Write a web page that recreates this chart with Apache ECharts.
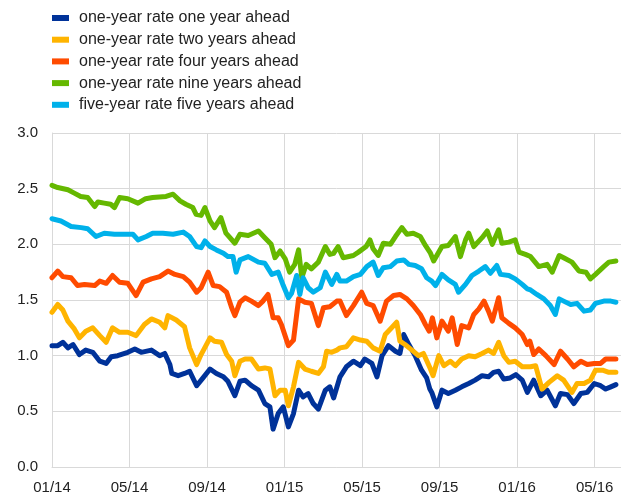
<!DOCTYPE html>
<html>
<head>
<meta charset="utf-8">
<script src="https://cdn.jsdelivr.net/npm/echarts@6/dist/echarts.min.js"></script>
<style>
html,body{margin:0;padding:0;background:#fff;}
#chart{width:621px;height:495px;}
</style>
</head>
<body>
<div id="chart"></div>
<script>
// x = days since 01/01/2014
var seriesNames = ['one-year rate one year ahead', 'one-year rate two years ahead', 'one-year rate four years ahead', 'one-year rate nine years ahead', 'five-year rate five years ahead'];
var colors = ['#003299', '#ffb400', '#ff4b00', '#65b800', '#00b1ea'];
var yTicks = [0, 0.5, 1, 1.5, 2, 2.5, 3];

var oneYearOne = [[0,1.09],[9,1.09],[17,1.12],[25,1.07],[33,1.10],[43,1.01],[53,1.05],[64,1.03],[75,0.95],[85,0.93],[93,0.99],[103,1.00],[119,1.03],[130,1.06],[140,1.03],[156,1.05],[169,1.00],[177,1.02],[185,0.92],[188,0.84],[198,0.82],[208,0.84],[216,0.86],[227,0.73],[237,0.80],[248,0.88],[258,0.84],[269,0.81],[276,0.77],[287,0.64],[295,0.77],[303,0.78],[313,0.73],[324,0.69],[334,0.57],[342,0.54],[347,0.34],[355,0.48],[363,0.54],[371,0.36],[379,0.48],[387,0.69],[394,0.63],[402,0.66],[410,0.57],[418,0.52],[429,0.69],[436,0.72],[442,0.62],[452,0.81],[462,0.90],[473,0.95],[484,0.91],[491,0.97],[502,0.93],[510,0.81],[518,1.00],[528,1.09],[539,1.04],[546,1.02],[552,1.19],[560,1.10],[570,1.00],[580,0.87],[588,0.80],[593,0.70],[596,0.67],[599,0.66],[604,0.54],[612,0.69],[622,0.66],[633,0.69],[643,0.72],[654,0.75],[664,0.78],[675,0.82],[685,0.81],[693,0.85],[701,0.86],[709,0.79],[719,0.80],[728,0.83],[738,0.78],[746,0.67],[756,0.78],[767,0.64],[777,0.69],[790,0.55],[798,0.66],[809,0.65],[819,0.57],[830,0.66],[840,0.67],[851,0.75],[861,0.73],[869,0.70],[877,0.72],[885,0.74]];
var oneYearTwo = [[0,1.39],[9,1.46],[17,1.41],[25,1.31],[35,1.24],[43,1.16],[53,1.22],[64,1.25],[75,1.18],[85,1.12],[95,1.25],[106,1.21],[119,1.21],[132,1.18],[145,1.28],[156,1.33],[169,1.30],[177,1.25],[182,1.36],[195,1.32],[208,1.26],[216,1.07],[227,0.92],[234,1.01],[248,1.16],[255,1.13],[266,1.12],[274,1.01],[282,0.95],[287,0.82],[295,0.95],[303,0.97],[313,0.97],[324,0.88],[334,0.89],[342,0.88],[350,0.64],[358,0.69],[366,0.69],[371,0.55],[379,0.72],[387,0.94],[397,0.88],[407,0.86],[418,0.84],[426,0.90],[431,1.04],[439,1.03],[447,1.05],[452,1.07],[462,1.08],[473,1.16],[484,1.14],[494,1.13],[504,1.07],[515,1.04],[523,1.19],[533,1.25],[541,1.30],[546,1.13],[554,1.10],[565,1.05],[575,1.00],[583,1.02],[594,0.88],[598,0.82],[607,1.00],[615,0.91],[625,0.95],[633,0.91],[643,0.97],[654,1.00],[664,0.99],[675,1.02],[685,1.05],[693,1.02],[701,1.12],[709,1.00],[717,0.94],[727,0.95],[738,0.90],[751,0.90],[759,0.91],[769,0.70],[780,0.76],[793,0.82],[803,0.78],[816,0.67],[824,0.75],[835,0.75],[845,0.78],[853,0.87],[864,0.87],[874,0.85],[885,0.85]];
var oneYearFour = [[0,1.70],[9,1.76],[17,1.71],[30,1.70],[40,1.63],[51,1.64],[67,1.63],[75,1.67],[85,1.65],[95,1.72],[106,1.66],[119,1.65],[132,1.54],[143,1.66],[156,1.69],[169,1.71],[182,1.76],[193,1.73],[206,1.71],[216,1.66],[227,1.57],[234,1.61],[245,1.75],[253,1.63],[263,1.62],[274,1.57],[282,1.43],[287,1.36],[295,1.48],[303,1.52],[313,1.49],[324,1.45],[331,1.49],[339,1.55],[347,1.34],[355,1.34],[360,1.28],[371,1.09],[379,1.14],[387,1.51],[397,1.48],[407,1.47],[418,1.27],[426,1.43],[436,1.44],[447,1.49],[452,1.49],[462,1.36],[473,1.45],[486,1.57],[494,1.47],[504,1.45],[515,1.31],[525,1.49],[536,1.54],[546,1.55],[557,1.51],[567,1.45],[578,1.37],[586,1.28],[592,1.22],[597,1.34],[604,1.16],[612,1.31],[622,1.22],[628,1.34],[636,1.10],[643,1.27],[654,1.25],[662,1.37],[670,1.42],[678,1.49],[685,1.40],[691,1.31],[701,1.52],[706,1.34],[717,1.29],[727,1.25],[738,1.19],[746,1.10],[750,1.13],[756,1.01],[764,1.06],[775,1.00],[788,0.92],[798,1.04],[809,0.97],[819,0.90],[830,0.95],[840,0.92],[851,0.93],[861,0.93],[869,0.97],[885,0.97]];
var oneYearNine = [[0,2.53],[9,2.51],[25,2.49],[35,2.46],[45,2.43],[56,2.42],[67,2.34],[72,2.38],[82,2.37],[92,2.36],[98,2.33],[106,2.42],[119,2.41],[135,2.37],[147,2.41],[158,2.42],[179,2.43],[190,2.45],[201,2.39],[210,2.36],[221,2.33],[226,2.27],[234,2.26],[240,2.33],[248,2.21],[255,2.15],[265,2.24],[273,2.10],[287,2.01],[295,2.09],[308,2.08],[324,2.12],[334,2.06],[344,2.00],[350,1.88],[358,1.94],[366,1.87],[373,1.75],[381,1.82],[387,1.95],[392,1.70],[399,1.82],[407,1.78],[418,1.84],[429,1.98],[436,1.91],[442,1.92],[449,1.98],[457,1.88],[473,1.90],[481,1.93],[493,1.98],[499,2.04],[504,1.96],[512,1.90],[520,2.01],[531,2.00],[539,2.07],[549,2.15],[557,2.09],[567,2.10],[578,2.07],[586,1.99],[594,1.92],[599,1.85],[612,1.98],[622,1.99],[633,2.07],[641,1.89],[649,2.04],[654,2.10],[662,1.98],[675,2.06],[683,2.12],[691,2.00],[701,2.13],[706,2.01],[717,2.02],[727,2.04],[733,1.93],[743,1.91],[751,1.89],[764,1.80],[777,1.82],[785,1.75],[796,1.90],[803,1.88],[816,1.84],[827,1.76],[838,1.75],[845,1.69],[853,1.73],[866,1.80],[874,1.84],[885,1.85]];
var fiveYearFive = [[0,2.23],[14,2.21],[30,2.16],[46,2.15],[56,2.14],[69,2.07],[82,2.10],[98,2.09],[114,2.09],[127,2.09],[135,2.04],[148,2.07],[158,2.10],[174,2.10],[190,2.09],[206,2.11],[216,2.07],[227,1.98],[234,1.97],[240,2.03],[248,1.98],[258,1.95],[269,1.92],[276,1.89],[284,1.89],[289,1.75],[295,1.86],[308,1.89],[324,1.84],[334,1.83],[345,1.73],[355,1.75],[363,1.63],[371,1.52],[376,1.56],[384,1.72],[389,1.55],[394,1.70],[402,1.61],[410,1.57],[421,1.61],[429,1.75],[439,1.64],[447,1.73],[452,1.67],[462,1.67],[473,1.71],[484,1.73],[494,1.80],[504,1.84],[512,1.72],[520,1.79],[531,1.80],[541,1.85],[552,1.86],[560,1.82],[570,1.81],[580,1.78],[588,1.70],[596,1.67],[602,1.63],[612,1.73],[622,1.68],[633,1.64],[638,1.57],[649,1.64],[659,1.72],[670,1.76],[680,1.80],[688,1.74],[698,1.81],[704,1.73],[717,1.72],[727,1.69],[738,1.64],[746,1.60],[751,1.59],[761,1.55],[772,1.51],[782,1.45],[790,1.37],[796,1.51],[803,1.49],[814,1.46],[824,1.47],[835,1.40],[845,1.41],[853,1.47],[866,1.49],[877,1.49],[885,1.48]];

var allData = [oneYearOne, oneYearTwo, oneYearFour, oneYearNine, fiveYearFive];
var xStep = 365 / 3; // four months

function dayLabel(v) {
    var k = Math.round(v / xStep);
    if (Math.abs(v - k * xStep) > 0.5) return '';
    var d = new Date(2014, 0, 1 + Math.round(v));
    var m = d.getMonth() + 1;
    return (m < 10 ? '0' + m : m) + '/' + String(d.getFullYear()).slice(2);
}

var myChart = echarts.init(document.getElementById('chart'));
var series = [];
for (var i = 0; i < allData.length; i++) {
    series.push({
        name: seriesNames[i],
        type: 'line',
        showSymbol: false,
        data: allData[i],
        lineStyle: {width: 5, color: colors[i], join: 'round', cap: 'round'},
        itemStyle: {color: colors[i]},
        emphasis: {disabled: true}
    });
}
option = {
    animation: false,
    textStyle: {fontFamily: 'Liberation Sans, Arial, sans-serif'},
    legend: {
        orient: 'vertical',
        left: 47,
        top: 5,
        itemWidth: 17,
        itemHeight: 6,
        itemGap: 5.7,
        icon: 'rect',
        textStyle: {fontSize: 16, color: '#222', lineHeight: 16, padding: [0, 0, 0, 5]},
        data: seriesNames
    },
    grid: {left: 52, right: 0, top: 133, bottom: 27, containLabel: false},
    xAxis: {
        type: 'value',
        min: 0,
        max: 893,
        interval: xStep,
        axisLine: {show: true, lineStyle: {color: '#d9d9d9', width: 1}},
        axisTick: {show: false},
        axisLabel: {formatter: dayLabel, fontSize: 15, color: '#222', margin: 13, showMaxLabel: false},
        splitLine: {show: true, lineStyle: {color: '#d9d9d9', width: 1}}
    },
    yAxis: {
        type: 'value',
        min: yTicks[0],
        max: yTicks[yTicks.length - 1],
        interval: 0.5,
        axisLine: {show: true, lineStyle: {color: '#d9d9d9', width: 1}},
        axisTick: {show: false},
        axisLabel: {formatter: function (v) { return v.toFixed(1); }, fontSize: 15, color: '#222', margin: 14},
        splitLine: {show: true, lineStyle: {color: '#d9d9d9', width: 1}}
    },
    series: series
};
myChart.setOption(option);
</script>
</body>
</html>
